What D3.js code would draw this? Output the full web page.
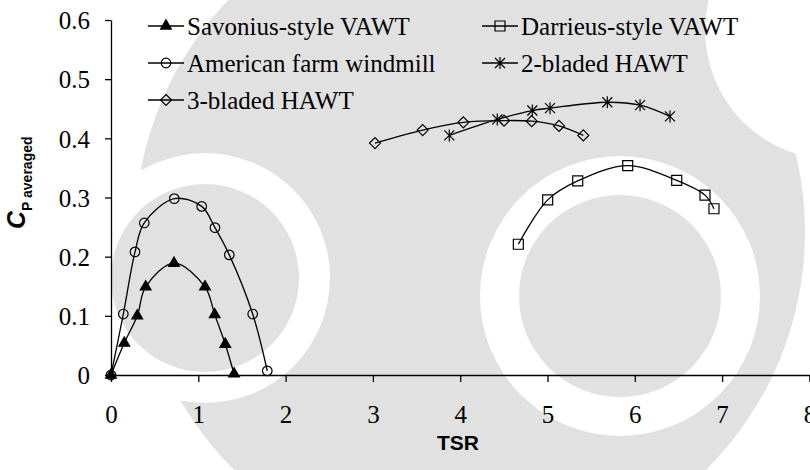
<!DOCTYPE html>
<html>
<head>
<meta charset="utf-8">
<script src="https://cdn.jsdelivr.net/npm/d3@7"></script>
<style>
  html, body { margin: 0; padding: 0; background: #fff; }
  svg { display: block; }
</style>
</head>
<body>
<svg id="chart" width="810" height="470"></svg>
<script>
// Power coefficient vs tip speed ratio for common rotor types
const savoniusTSR = [0, 0.152, 0.301, 0.397, 0.722, 1.077, 1.188, 1.309, 1.409];
const savoniusCp  = [0, 0.054, 0.100, 0.149, 0.189, 0.149, 0.102, 0.052, 0.002];

const americanTSR = [0, 0.141, 0.275, 0.381, 0.725, 1.039, 1.191, 1.355, 1.623, 1.790];
const americanCp  = [0, 0.103, 0.208, 0.257, 0.298, 0.285, 0.249, 0.203, 0.103, 0.007];

const threeBladeTSR = [3.024, 3.570, 4.036, 4.502, 4.819, 5.132, 5.410];
const threeBladeCp  = [0.392, 0.414, 0.427, 0.430, 0.429, 0.421, 0.405];

const darrieusTSR = [4.666, 5.002, 5.346, 5.919, 6.480, 6.804, 6.907];
const darrieusCp  = [0.221, 0.296, 0.328, 0.354, 0.329, 0.304, 0.281];

const twoBladeTSR = [3.875, 4.425, 4.826, 5.029, 5.685, 6.060, 6.403];
const twoBladeCp  = [0.405, 0.432, 0.447, 0.451, 0.461, 0.456, 0.437];

const xTicks = [0, 1, 2, 3, 4, 5, 6, 7, 8];
const yTicks = [0, 0.1, 0.2, 0.3, 0.4, 0.5, 0.6];

const seriesNames = ["Savonius-style VAWT", "American farm windmill", "3-bladed HAWT",
                     "Darrieus-style VAWT", "2-bladed HAWT"];
const seriesMarkers = ["triangle", "circle", "diamond", "square", "star"];

const series = [
  { name: seriesNames[0], marker: seriesMarkers[0], x: savoniusTSR, y: savoniusCp },
  { name: seriesNames[1], marker: seriesMarkers[1], x: americanTSR, y: americanCp },
  { name: seriesNames[2], marker: seriesMarkers[2], x: threeBladeTSR, y: threeBladeCp },
  { name: seriesNames[3], marker: seriesMarkers[3], x: darrieusTSR, y: darrieusCp },
  { name: seriesNames[4], marker: seriesMarkers[4], x: twoBladeTSR, y: twoBladeCp }
];

const svg = d3.select("#chart");
const W = 810, H = 470;
const SERIF = "Liberation Serif";
const SANS = "Liberation Sans";

svg.append("rect").attr("width", W).attr("height", H).attr("fill", "#fff");

// faint background emblem
const wm = svg.append("g").attr("fill", "#e1e1e1");
wm.append("circle").attr("cx", 470).attr("cy", 232).attr("r", 335);
wm.append("circle").attr("cx", 835).attr("cy", 30).attr("r", 130).attr("fill", "#fff");
wm.append("circle").attr("cx", 620).attr("cy", 296).attr("r", 140).attr("fill", "#fff");
wm.append("circle").attr("cx", 205).attr("cy", 278).attr("r", 125).attr("fill", "#fff");
wm.append("circle").attr("cx", 620).attr("cy", 296).attr("r", 101);
wm.append("circle").attr("cx", 205).attr("cy", 278).attr("r", 94);

const x = d3.scaleLinear().domain([0, 8]).range([111, 809.4]);
const y = d3.scaleLinear().domain([0, 0.6]).range([375, 20]);

// axes
const xAxis = svg.append("g").attr("transform", `translate(0,${y(0)})`)
  .call(d3.axisBottom(x).tickValues(xTicks).tickFormat(d3.format("d"))
        .tickSizeInner(7).tickSizeOuter(0).tickPadding(23));
const yAxis = svg.append("g").attr("transform", `translate(${x(0)},0)`)
  .call(d3.axisLeft(y).tickValues(yTicks).tickFormat(d => d === 0 ? "0" : d3.format(".1f")(d))
        .tickSizeInner(6).tickSizeOuter(0).tickPadding(15));

[xAxis, yAxis].forEach(a => {
  a.attr("font-family", SERIF).attr("font-size", 25);
  a.select(".domain").attr("stroke", "#000").attr("stroke-width", 1.3);
  a.selectAll(".tick line").attr("stroke", "#000").attr("stroke-width", 1.3);
  a.selectAll(".tick text").attr("fill", "#000");
});
yAxis.selectAll(".tick text").attr("dy", "0.35em");

// axis titles
svg.append("text").attr("x", 458).attr("y", 450).attr("text-anchor", "middle")
  .attr("font-family", SANS).attr("font-weight", "bold").attr("font-size", 21)
  .text("TSR");

const yTitle = svg.append("text").attr("transform", "translate(25,229) rotate(-90)")
  .attr("font-family", SANS).attr("font-weight", "bold");
yTitle.append("tspan").attr("font-size", 25).attr("font-style", "italic").text("C");
yTitle.append("tspan").attr("font-size", 14).attr("dy", 7).text("P averaged");

// markers
function markerPath(type) {
  switch (type) {
    case "triangle": return d3.symbol(d3.symbolTriangle, 50)();
    case "circle": return d3.symbol(d3.symbolCircle, 72)();
    case "square": return "M-5,-5H5V5H-5Z";
    case "diamond": return "M0,-5.5L5.5,0L0,5.5L-5.5,0Z";
    case "star": return "M-5,-5L5,5M-5,5L5,-5M0,-6V6";
  }
}

const line = d3.line().x(d => x(d[0])).y(d => y(d[1])).curve(d3.curveCatmullRom.alpha(0.5));

series.forEach(s => {
  const pts = s.x.map((v, i) => [v, s.y[i]]);
  svg.append("path").datum(pts).attr("d", line)
    .attr("fill", "none").attr("stroke", "#000").attr("stroke-width", 1.3);
  svg.append("g").selectAll("path").data(pts).join("path")
    .attr("transform", d => `translate(${x(d[0])},${y(d[1])})`)
    .attr("d", markerPath(s.marker))
    .attr("fill", s.marker === "triangle" ? "#000" : "none")
    .attr("stroke", "#000").attr("stroke-width", 1.2);
});

// legend: two columns
const legendPos = [[148, 26], [148, 63], [148, 100], [482, 26], [482, 63]];
series.forEach((s, i) => {
  const [lx, ly] = legendPos[i];
  const g = svg.append("g").attr("transform", `translate(${lx},${ly})`);
  g.append("line").attr("x1", 0).attr("x2", 36).attr("stroke", "#000").attr("stroke-width", 1.3);
  g.append("path").attr("transform", "translate(18,0)").attr("d", markerPath(s.marker))
    .attr("fill", s.marker === "triangle" ? "#000" : "none")
    .attr("stroke", "#000").attr("stroke-width", 1.2);
  g.append("text").attr("x", 39).attr("dy", "0.35em")
    .attr("font-family", SERIF).attr("font-size", 25).attr("fill", "#000")
    .text(s.name);
});
</script>
</body>
</html>
